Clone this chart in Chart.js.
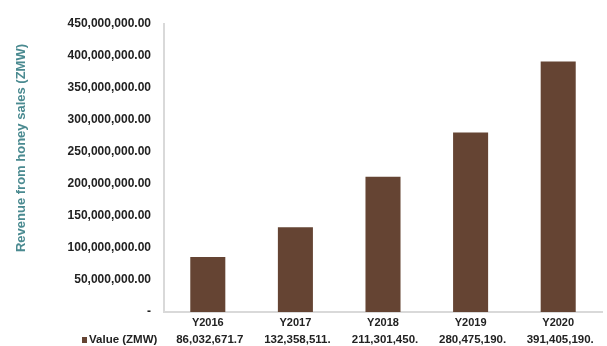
<!DOCTYPE html>
<html><head><meta charset="utf-8">
<script src="https://cdn.jsdelivr.net/npm/chart.js@4/dist/chart.umd.min.js"></script>
<style>html,body{margin:0;padding:0;background:#fff}#wrap{width:607px;height:346px}</style>
</head><body><div id="wrap"><canvas id="c" width="607" height="346"></canvas></div>
<script>
const categories = ["Y2016","Y2017","Y2018","Y2019","Y2020"];
const values = [86032671.7, 132358511, 211301450, 280475190, 391405190];
const tableLabels = ["86,032,671.7","132,358,511.","211,301,450.","280,475,190.","391,405,190."];
const seriesName = "Value (ZMW)";
const yTitle = "Revenue from honey sales (ZMW)";
const yMax = 450000000, yStep = 50000000;

const barColor = "#654433";
const extras = {
  id:'extras',
  afterDraw(chart){
    const ctx = chart.ctx, x = chart.scales.x;
    ctx.save();
    ctx.fillStyle = "#4a8a90";
    ctx.font = "bold 13px 'Liberation Sans', Arial, sans-serif";
    ctx.translate(21,148); ctx.rotate(-Math.PI/2);
    ctx.textAlign="center"; ctx.textBaseline="middle";
    ctx.fillText(yTitle,0,0);
    ctx.restore();
    ctx.save();
    ctx.font = "bold 11.5px 'Liberation Sans', Arial, sans-serif";
    ctx.fillStyle = "#222";
    ctx.textBaseline="middle";
    const ty = 340;
    categories.forEach((c,i)=>{
      ctx.textAlign="center";
      ctx.fillText(tableLabels[i], x.getPixelForValue(i)+2, ty);
    });
    ctx.fillStyle = barColor;
    ctx.fillRect(82,337,5,6);
    ctx.fillStyle="#222"; ctx.textAlign="left";
    ctx.fillText(seriesName, 89, ty);
    ctx.restore();
  }
};
new Chart(document.getElementById('c'),{
  type:'bar',
  data:{labels:categories,datasets:[{label:seriesName,data:values,backgroundColor:barColor,
    categoryPercentage:1,barPercentage:0.4}]},
  options:{responsive:false,animation:false,devicePixelRatio:1,
    layout:{padding:{top:24,right:5,left:0,bottom:0}},
    plugins:{legend:{display:false},tooltip:{enabled:false}},
    scales:{
      x:{grid:{display:false,drawTicks:false},border:{color:'#d9d9d9',width:2},
        ticks:{padding:4,color:'#222',font:{family:"'Liberation Sans', Arial, sans-serif",size:11,weight:'bold'}},
        afterFit(s){s.height=34;}},
      y:{min:0,max:yMax,grid:{display:false,drawTicks:false},border:{color:'#d9d9d9',width:2},
        ticks:{stepSize:yStep,padding:13,color:'#222',font:{family:"'Liberation Sans', Arial, sans-serif",size:12,weight:'bold'},
          callback:(v)=> v===0?'-':Number(v).toLocaleString('en-US',{minimumFractionDigits:2,maximumFractionDigits:2})},
        afterFit(s){s.width=164;}}
    }},
  plugins:[extras]
});
</script></body></html>
